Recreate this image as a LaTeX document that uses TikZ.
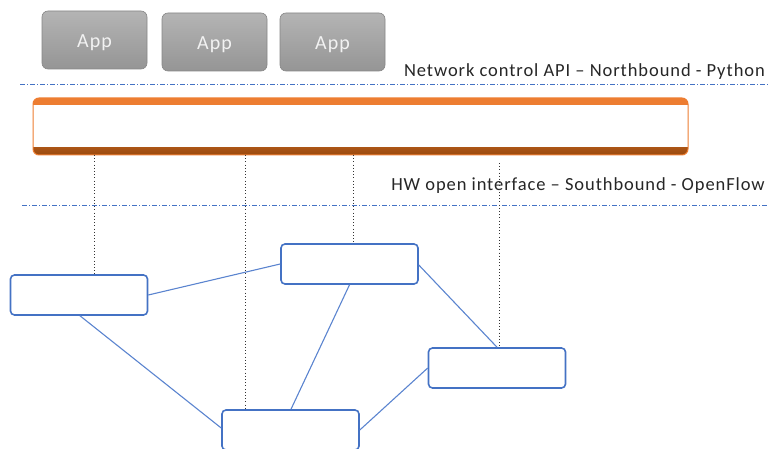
\documentclass[tikz,border=0pt]{standalone}
\usepackage{fontspec}
\setmainfont{Carlito}
\newfontfamily\lblfont[LetterSpace=5]{Carlito}
\usetikzlibrary{calc}
\definecolor{swblue}{HTML}{4472C4}
\definecolor{linkblue}{HTML}{5B84CF}
\definecolor{ctlorange}{HTML}{ED7D31}
\definecolor{ctlbrown}{HTML}{9A4A0E}
\definecolor{appgrayA}{HTML}{B4B4B4}
\definecolor{appgrayB}{HTML}{959595}
\newcommand{\apptext}[1]{\raisebox{-8pt}[0pt][0pt]{#1}}
\begin{document}
\begin{tikzpicture}[x=1pt,y=-1pt,
  appbox/.style={rounded corners=6pt, draw=appgrayB!90!black, line width=0.6pt,
    top color=appgrayA, bottom color=appgrayB, minimum width=105pt, minimum height=58pt,
    text=white!90!gray, font=\lblfont\fontsize{20}{22}\selectfont, inner sep=0pt},
  switchbox/.style={rounded corners=4pt, draw=swblue, line width=1.6pt, fill=white,
    minimum width=137pt, minimum height=40pt, inner sep=0pt},
  link/.style={draw=linkblue, line width=1.1pt},
  ctrllink/.style={draw=black!80, line width=0.8pt, dash pattern=on 1pt off 2.2pt},
  boundary/.style={draw=swblue, line width=0.8pt, dash pattern=on 5pt off 2pt on 1pt off 2pt},
  label/.style={font=\lblfont\fontsize{18.5}{20}\selectfont, text=black!85, inner sep=0pt, anchor=base east}
]
\useasboundingbox (0,0) rectangle (776,449);
\clip (0,0) rectangle (776,449);

% applications
\node[appbox] (app1) at (94.5,40) {\apptext{App}};
\node[appbox] (app2) at (214.5,42) {\apptext{App}};
\node[appbox] (app3) at (332.5,42) {\apptext{App}};

% northbound boundary
\node[label] (nbl) at (765,77) {Network control API – Northbound - Python};
\draw[boundary] (20,84) -- (768,84);

% controller bar
\begin{scope}
  \clip[rounded corners=6pt] (33,98) rectangle (688,155);
  \fill[white] (33,98) rectangle (688,155);
  \fill[ctlorange] (33,98) rectangle (688,105.5);
  \shade[top color=ctlbrown!80!ctlorange, bottom color=ctlbrown] (33,147.5) rectangle (688,155);
\end{scope}
\node[draw=ctlorange, line width=1pt, rounded corners=6pt, minimum width=655pt,
  minimum height=57pt, inner sep=0pt] (ctrl) at (360.5,126.5) {};

% southbound boundary
\node[label] (sbl) at (765,191) {HW open interface – Southbound - OpenFlow};
\draw[boundary] (22,205) -- (768,205);

% switches
\node[switchbox] (s1) at (79,295) {};
\node[switchbox] (s2) at (349.5,264) {};
\node[switchbox] (s3) at (497,368) {};
\node[switchbox] (s4) at (290.5,430) {};

% control channels
\coordinate (c1) at (94,155);
\coordinate (c2) at (245,155);
\coordinate (c3) at (353,155);
\coordinate (c4) at (499,163);
\draw[ctrllink] (c1) -- (c1 |- s1.north);
\draw[ctrllink] (c2) -- (c2 |- s4.north);
\draw[ctrllink] (c3) -- (c3 |- s2.north);
\draw[ctrllink] (c4) -- (c4 |- s3.north);

% data plane links
\draw[link] (s1.east) -- (s2.west);
\draw[link] ($(s1.south)+(1,0)$) -- ($(s4.west)+(0,-2)$);
\draw[link] (s2.south) -- ($(s4.north)+(0.5,0)$);
\draw[link] ($(s2.east)+(0,1)$) -- (s3.north);
\draw[link] (s3.west) -- (s4.east);
\end{tikzpicture}
\end{document}
